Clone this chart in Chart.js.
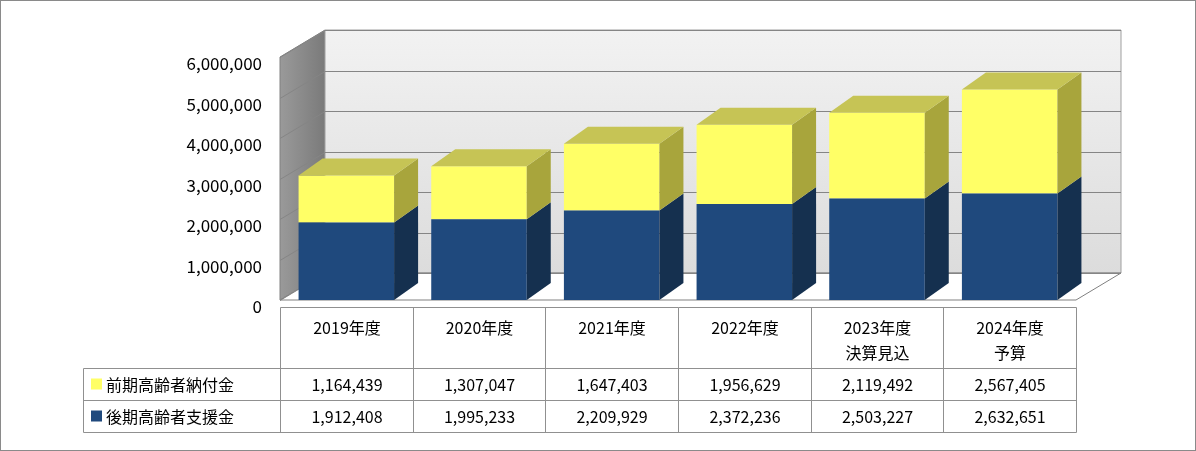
<!DOCTYPE html>
<html>
<head>
<meta charset="utf-8">
<script src="https://cdn.jsdelivr.net/npm/chart.js@4"></script>
<style>
  html, body { margin: 0; padding: 0; background: #fff; }
  #wrap { width: 1196px; height: 451px; position: relative; }
</style>
</head>
<body>
<div id="wrap"><canvas id="chart" width="1196" height="451"></canvas></div>
<script>
// カテゴリ(表の見出し、改行は配列で)
const categories = [['2019年度'], ['2020年度'], ['2021年度'], ['2022年度'], ['2023年度', '決算見込'], ['2024年度', '予算']];
const seriesNames = ['後期高齢者支援金', '前期高齢者納付金'];
const kouki = [1912408, 1995233, 2209929, 2372236, 2503227, 2632651];
const zenki = [1164439, 1307047, 1647403, 1956629, 2119492, 2567405];
const yTicks = [0, 1000000, 2000000, 3000000, 4000000, 5000000, 6000000];

const FONT = '"Noto Sans CJK JP", "Noto Sans", sans-serif';
const WALL_DX = 45, WALL_DY = -27;   // 奥行き(壁)
const BAR_DX = 24, BAR_DY = -17;     // 奥行き(棒)

const fmt = v => Number(v).toLocaleString('en-US');

function poly(ctx, pts, fill, stroke) {
    ctx.beginPath();
    ctx.moveTo(pts[0][0], pts[0][1]);
    for (let i = 1; i < pts.length; i++) ctx.lineTo(pts[i][0], pts[i][1]);
    ctx.closePath();
    if (fill) { ctx.fillStyle = fill; ctx.fill(); }
    if (stroke) { ctx.strokeStyle = stroke; ctx.lineWidth = 1; ctx.stroke(); }
}

// 背面の壁・床・グリッド・目盛りラベル
const wallPlugin = {
    id: 'wall',
    beforeDatasetsDraw(chart) {
        const ctx = chart.ctx;
        const a = chart.chartArea;
        const y = chart.scales.y;
        const top = y.getPixelForValue(6000000), bot = y.getPixelForValue(0);
        ctx.save();
        // 左側面
        const g = ctx.createLinearGradient(a.left, 0, a.left + WALL_DX, 0);
        g.addColorStop(0, '#9a9a9a'); g.addColorStop(1, '#7a7a7a');
        poly(ctx, [[a.left, top], [a.left + WALL_DX, top + WALL_DY], [a.left + WALL_DX, bot + WALL_DY], [a.left, bot]], g, '#808080');
        // 背面
        const g2 = ctx.createLinearGradient(0, top + WALL_DY, 0, bot + WALL_DY);
        g2.addColorStop(0, '#f2f2f2'); g2.addColorStop(1, '#dcdcdc');
        poly(ctx, [[a.left + WALL_DX, top + WALL_DY], [a.right + WALL_DX, top + WALL_DY], [a.right + WALL_DX, bot + WALL_DY], [a.left + WALL_DX, bot + WALL_DY]], g2, '#a0a0a0');
        // 床
        poly(ctx, [[a.left, bot], [a.left + WALL_DX, bot + WALL_DY], [a.right + WALL_DX, bot + WALL_DY], [a.right, bot]], '#ffffff', '#808080');
        // グリッド線とラベル
        ctx.strokeStyle = '#858585';
        ctx.lineWidth = 1;
        ctx.fillStyle = '#000';
        ctx.font = '17px ' + FONT;
        ctx.textAlign = 'right';
        ctx.textBaseline = 'middle';
        yTicks.forEach(v => {
            const py = Math.round(y.getPixelForValue(v)) + 0.5;
            ctx.beginPath();
            ctx.moveTo(a.left, py);
            ctx.lineTo(a.left + WALL_DX, py + WALL_DY);
            ctx.lineTo(a.right + WALL_DX, py + WALL_DY);
            ctx.stroke();
            ctx.fillText(fmt(v), 262, py + 6);
        });
        ctx.restore();
    }
};

// 棒の側面と上面
const bar3dPlugin = {
    id: 'bar3d',
    afterDatasetsDraw(chart) {
        const ctx = chart.ctx;
        const sideColors = ['#15304f', '#a8a53c'];
        const topColors = ['#2c5a8e', '#c6c455'];
        ctx.save();
        chart.data.datasets.forEach((ds, di) => {
            chart.getDatasetMeta(di).data.forEach(bar => {
                const r = bar.x + bar.width / 2, l = bar.x - bar.width / 2;
                poly(ctx, [[r, bar.y], [r + BAR_DX, bar.y + BAR_DY], [r + BAR_DX, bar.base + BAR_DY], [r, bar.base]], sideColors[di]);
                if (di === chart.data.datasets.length - 1) {
                    poly(ctx, [[l, bar.y], [l + BAR_DX, bar.y + BAR_DY], [r + BAR_DX, bar.y + BAR_DY], [r, bar.y]], topColors[di]);
                }
            });
        });
        ctx.restore();
    }
};

// データ表と枠
const tablePlugin = {
    id: 'table',
    afterDraw(chart) {
        const ctx = chart.ctx;
        const x = chart.scales.x;
        const cols = [];
        for (let i = 0; i <= categories.length; i++) {
            cols.push(Math.round(x.left + (x.right - x.left) * i / categories.length) + 0.5);
        }
        const headLeft = 83.5, rowTop = 307.5, r1 = 368.5, r2 = 400.5, r3 = 432.5;
        ctx.save();
        ctx.strokeStyle = '#909090';
        ctx.lineWidth = 1;
        ctx.beginPath();
        ctx.moveTo(cols[0], rowTop); ctx.lineTo(cols[cols.length - 1], rowTop);
        [r1, r2, r3].forEach(yy => { ctx.moveTo(headLeft, yy); ctx.lineTo(cols[cols.length - 1], yy); });
        ctx.moveTo(headLeft, r1); ctx.lineTo(headLeft, r3);
        cols.forEach(cx => { ctx.moveTo(cx, rowTop); ctx.lineTo(cx, r3); });
        ctx.stroke();

        ctx.fillStyle = '#000';
        ctx.font = '16px ' + FONT;
        ctx.textAlign = 'center';
        ctx.textBaseline = 'middle';
        categories.forEach((lines, i) => {
            const cx = (cols[i] + cols[i + 1]) / 2;
            lines.forEach((t, li) => ctx.fillText(t, cx, 328 + li * 25));
        });
        const rows = [[zenki, seriesNames[1], '#ffff66', (r1 + r2) / 2], [kouki, seriesNames[0], '#1f497d', (r2 + r3) / 2]];
        rows.forEach(([vals, name, col, cy]) => {
            ctx.fillStyle = col;
            ctx.fillRect(91, cy - 6, 11, 11);
            ctx.fillStyle = '#000';
            ctx.textAlign = 'left';
            ctx.fillText(name, 106, cy);
            ctx.textAlign = 'center';
            vals.forEach((v, i) => ctx.fillText(fmt(v), (cols[i] + cols[i + 1]) / 2, cy));
        });
        // 外枠
        ctx.strokeStyle = '#8a8a8a';
        ctx.strokeRect(0.5, 0.5, chart.width - 1, chart.height - 1);
        ctx.restore();
    }
};

new Chart(document.getElementById('chart'), {
    type: 'bar',
    data: {
        labels: categories.map(c => c.join('')),
        datasets: [
            { label: seriesNames[0], data: kouki, backgroundColor: '#1f497d', barPercentage: 0.8, categoryPercentage: 0.9 },
            { label: seriesNames[1], data: zenki, backgroundColor: '#ffff66', barPercentage: 0.8, categoryPercentage: 0.9 }
        ]
    },
    options: {
        responsive: false,
        animation: false,
        devicePixelRatio: 1,
        layout: { padding: { left: 280, right: 120, top: 57, bottom: 151 } },
        plugins: { legend: { display: false }, tooltip: { enabled: false } },
        scales: {
            x: { display: false, stacked: true },
            y: { display: false, stacked: true, min: 0, max: 6000000 }
        }
    },
    plugins: [wallPlugin, bar3dPlugin, tablePlugin]
});
</script>
</body>
</html>
